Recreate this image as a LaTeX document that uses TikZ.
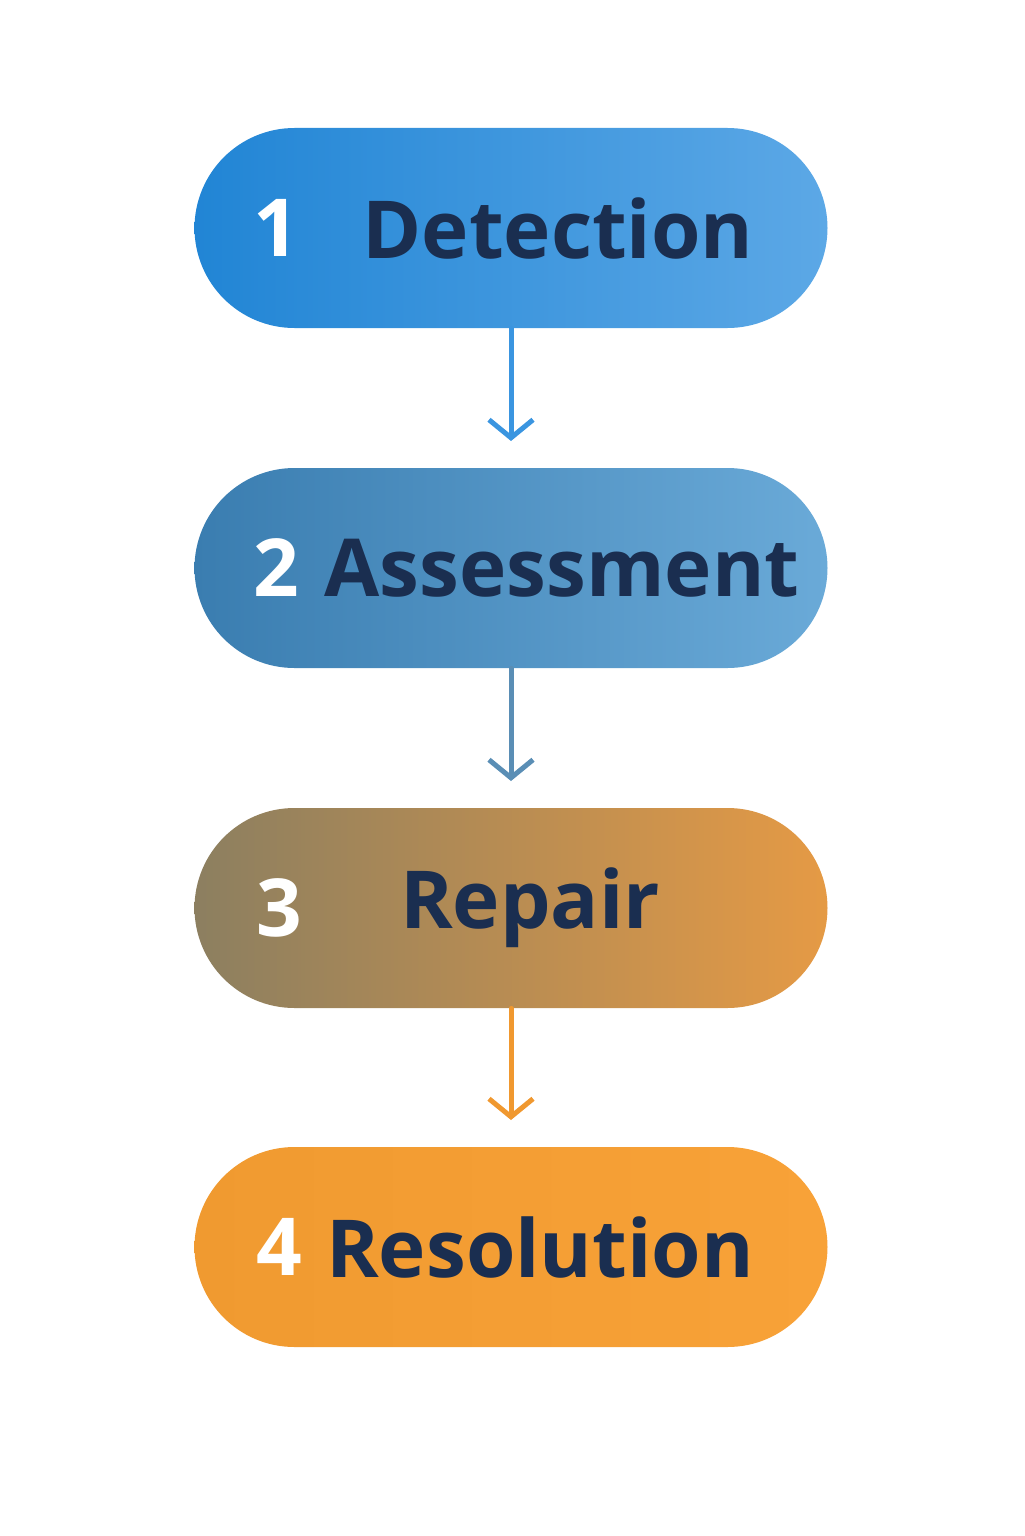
\documentclass[tikz,border=0pt]{standalone}
\usepackage{fontspec}
\setmainfont{Open Sans}
\usetikzlibrary{positioning,arrows.meta}
\definecolor{navy}{HTML}{1A2E50}
\definecolor{blueA}{HTML}{2185D5}
\definecolor{blueB}{HTML}{5CA8E6}
\definecolor{steelA}{HTML}{3A7DB0}
\definecolor{steelB}{HTML}{6AAAD8}
\definecolor{brownA}{HTML}{8C7F60}
\definecolor{brownB}{HTML}{E59A45}
\definecolor{orangeA}{HTML}{F09A30}
\definecolor{orangeB}{HTML}{F8A238}
\definecolor{arrowA}{HTML}{3A95E0}
\definecolor{arrowB}{HTML}{5A8EB5}
\definecolor{arrowC}{HTML}{F0982F}
\tikzset{
  stage/.style={rounded corners=50pt, minimum width=316.5pt, minimum height=100pt, inner sep=0pt},
  num/.style={text=white, font=\fontsize{40}{40}\selectfont\bfseries},
  lbl/.style={text=navy, font=\fontsize{40}{40}\selectfont\bfseries},
  flow/.style={line width=2.5pt, line cap=round, -{Straight Barb[length=9pt,width=22pt,line width=2.5pt]}}
}
\begin{document}
\begin{tikzpicture}[x=0.5pt,y=-0.5pt]
		\useasboundingbox (0,0) rectangle (1024,1536);
		\node[stage, left color=blueA, right color=blueB] (detect) at (511,228) {};
		\node[stage, left color=steelA, right color=steelB] (assess) at (511,568) {};
		\node[stage, left color=brownA, right color=brownB] (repair) at (511,908) {};
		\node[stage, left color=orangeA, right color=orangeB] (resolve) at (511,1247) {};
%		numbers
		\node[num] (n1) at (276,228) {1};
		\node[num] (n2) at (276,568) {2};
		\node[num] (n3) at (279,908) {3};
		\node[num] (n4) at (279,1247) {4};
%		labels
		\node[lbl] (t1) at (558,228) {Detection};
		\node[lbl] (t2) at (562,568) {Assessment};
		\node[lbl] (t3) at (530,908) {Repair};
		\node[lbl] (t4) at (540,1247) {Resolution};
		\coordinate (a1) at (511,441);
		\coordinate (a2) at (511,781);
		\coordinate (a3) at (511,1120);
		\draw [flow, arrowA] (detect.south) to (a1);
		\draw [flow, arrowB] (assess.south) to (a2);
		\draw [flow, arrowC] (repair.south) to (a3);
\end{tikzpicture}
\end{document}
